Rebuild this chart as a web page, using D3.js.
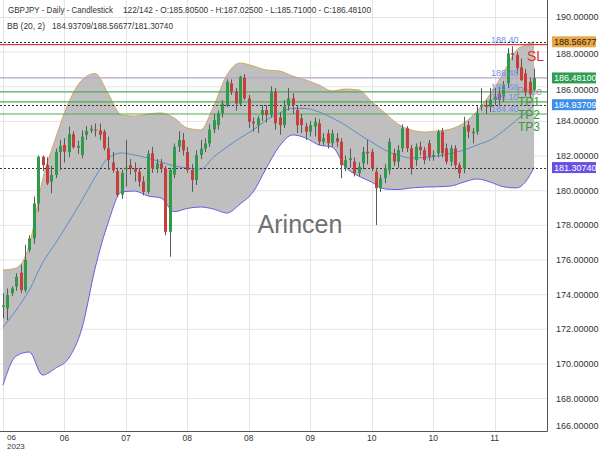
<!DOCTYPE html>
<html><head><meta charset="utf-8">
<script src="https://cdn.jsdelivr.net/npm/d3@7"></script>
<style>body{margin:0;background:#fff;} svg{display:block;font-family:"Liberation Sans",Arial,sans-serif;}</style>
</head><body><svg id="c" width="600" height="450"></svg>
<script>
// ---- data ----
const opens = [173.27,173.18,174.05,174.43,175.24,174.24,176.55,177.22,179.24,181.93,
181.45,180.50,180.88,182.20,182.61,182.20,183.24,182.45,182.03,183.19,
183.45,183.50,183.45,183.38,182.42,181.60,181.10,179.75,181.20,181.45,
181.26,181.07,180.50,179.90,182.13,181.26,181.55,181.26,177.60,180.90,
182.50,182.90,182.20,181.17,180.59,182.03,182.40,182.70,183.50,183.76,
184.44,184.90,186.17,185.69,185.00,186.50,185.30,183.95,183.76,184.34,
184.63,184.34,185.69,184.20,183.76,184.90,185.31,184.63,184.15,183.67,
183.38,183.67,183.86,182.80,183.28,182.71,183.00,182.80,181.30,181.74,
181.65,180.98,181.55,182.22,182.22,181.07,180.11,180.69,181.17,182.13,
181.65,182.42,183.57,182.42,181.74,182.51,182.32,182.71,181.93,182.13,
183.38,182.42,181.65,182.42,181.45,181.26,183.76,183.28,183.38,184.82,
184.92,184.82,185.21,185.59,185.40,186.17,187.90,187.81,187.10,186.75,
186.26,185.805];
const highs = [174.05,174.33,174.45,175.20,175.70,176.85,177.40,179.63,182.00,182.00,
181.90,181.40,182.40,182.90,183.00,183.67,183.40,182.85,183.45,183.70,
183.75,183.85,183.85,183.50,183.09,182.20,181.30,181.20,182.90,181.80,
181.60,181.30,180.80,182.30,182.50,181.80,181.80,181.40,181.30,182.70,
183.40,183.30,182.50,181.50,182.30,182.90,183.00,183.80,184.40,184.60,
185.20,186.40,186.40,185.90,186.60,186.70,185.50,184.20,184.30,184.90,
184.90,186.00,185.90,184.50,185.20,185.90,185.60,184.90,184.40,183.90,
184.00,184.20,184.10,183.30,183.50,183.50,183.30,183.00,182.00,182.40,
181.90,181.60,182.50,182.90,182.40,181.30,180.90,181.50,183.00,182.40,
182.60,183.80,183.70,182.60,182.70,182.80,182.50,182.90,182.30,183.50,
183.60,182.70,182.60,182.60,181.60,184.24,184.00,183.60,184.90,185.88,
185.20,185.90,185.90,186.00,186.30,188.20,188.30,188.00,187.60,187.00,
186.50,187.025];
const lows = [172.60,172.50,173.90,174.20,174.05,174.10,176.40,176.90,178.76,181.10,
180.30,179.82,180.70,181.17,181.60,181.90,182.40,182.10,181.84,182.90,
183.30,183.10,182.90,182.30,181.17,181.00,179.60,179.50,180.20,180.90,
180.50,180.20,179.70,179.80,181.00,181.00,181.00,177.40,176.16,180.70,
182.20,182.00,181.00,179.90,180.30,181.80,182.20,182.50,183.30,183.50,
184.20,184.80,185.50,184.60,184.90,185.20,183.60,183.38,183.30,184.00,
183.90,184.20,183.50,183.20,183.60,184.60,184.40,183.30,183.30,182.90,
183.10,183.10,182.60,182.60,182.40,182.50,182.50,180.69,181.10,181.30,
180.80,180.80,181.20,181.50,181.10,177.99,179.90,180.40,180.90,181.40,
181.30,182.20,182.20,180.90,181.40,182.00,181.50,181.70,181.70,181.90,
181.90,181.50,181.40,181.20,180.69,180.98,183.00,182.70,183.20,184.60,
184.40,184.50,184.90,184.90,185.10,185.90,187.50,186.70,186.30,185.40,
185.30,185.71];
const closes = [173.35,173.95,174.33,175.00,174.24,175.97,177.22,179.24,181.93,181.45,
180.40,180.88,182.22,182.55,182.22,183.24,182.48,182.55,183.09,183.42,
183.55,183.47,183.20,182.42,181.74,181.15,179.72,181.00,181.30,181.26,
181.07,180.50,179.90,182.10,181.26,181.55,181.26,177.60,181.17,182.50,
182.90,182.30,181.17,180.59,182.03,182.40,182.70,183.50,184.05,184.44,
185.00,186.26,185.69,185.00,186.55,185.30,183.95,183.86,184.15,184.63,
184.34,185.69,183.86,183.76,184.82,185.30,184.92,183.76,183.76,183.38,
183.76,183.95,182.80,183.00,182.71,183.28,182.80,181.45,181.74,181.84,
180.98,181.36,182.22,182.13,181.26,180.11,180.69,181.26,182.80,181.65,
182.32,183.57,182.42,181.26,182.51,182.32,181.74,181.93,182.03,183.38,
182.13,181.65,182.42,181.45,180.98,183.67,183.38,183.38,184.44,184.92,
184.82,185.21,185.40,185.21,186.07,187.90,187.81,187.04,186.36,185.69,
185.59,186.481];

// Bollinger band values at these candle indices
const bbIdx = [0,3,6,9,12,15,18,21,24,27,30,33,36,39,42,45,48,51,54,57,60,63,66,69,72,75,78,81,84,87,90,93,96,99,102,105,108,111,114,117,119,121];
const bbUpper = [175.39,175.51,176.84,180.59,183.01,185.09,186.36,186.74,185.55,184.34,184.28,184.40,184.46,184.17,183.59,183.48,184.86,186.65,187.34,187.17,186.94,186.88,186.59,186.36,186.07,185.73,185.84,185.79,185.11,184.46,183.82,183.48,183.36,183.42,183.53,183.88,184.57,185.55,186.77,188.09,188.38,188.567];
const bbMid = [172.10,173.08,174.24,175.80,176.95,178.16,179.43,180.76,181.86,182.15,182.03,181.86,181.63,181.40,181.28,181.22,181.92,182.49,183.01,183.48,184.05,184.46,184.72,184.72,184.52,184.17,183.76,183.24,182.78,182.32,182.03,181.86,181.89,181.97,182.12,182.32,182.61,182.90,183.42,184.05,184.46,184.937];
const bbLower = [168.75,170.43,170.66,169.33,169.73,170.31,172.04,175.51,178.16,179.90,179.95,179.67,179.55,178.76,178.95,179.03,178.91,178.68,179.20,179.90,181.28,182.55,183.19,183.01,182.61,182.49,181.34,180.82,180.47,180.07,180.04,180.13,180.18,180.20,180.24,180.47,180.65,180.47,180.20,180.13,180.47,181.307];

const yTicks = [190,188,186,184,182,180,178,176,174,172,170,168,166];
const xTickIdx = [14,28,42,56,70,84,98,112];
const xTickLabels = ["06","06","07","08","08","09","10","10","11"];
const firstLabel = ["06","2023"];

const levelValues = [188.40,186.48,185.68,185.10,184.40];
const levelNames = ["SL","Price","TP1","TP2","TP3"];
const bbLast = [188.56677,184.93709,181.30740];
const lastPrice = 186.481;
const header1a = "GBPJPY - Daily - Candlestick";
const header1b = "122/142 - O:185.80500 - H:187.02500 - L:185.71000 - C:186.48100";
const header2a = "BB (20, 2)";
const header2b = "184.93709/188.56677/181.30740";
const watermark = "Arincen";

// ---- drawing ----
const svg = d3.select("#c");
const plotR = 547, plotB = 431;
const n = closes.length;
const x = d3.scaleLinear().domain([0, n-1]).range([3, 534.1]);
const y = d3.scaleLinear().domain([166.10, 190.98]).range([plotB, 0]);

svg.append("defs").append("clipPath").attr("id","clip")
  .append("rect").attr("x",0).attr("y",0).attr("width",plotR).attr("height",plotB);

// grid
const grid = svg.append("g");
grid.selectAll("line.h").data(yTicks.filter(v=>y(v)<plotB)).join("line")
  .attr("x1",0).attr("x2",plotR).attr("y1",d=>y(d)+0.5).attr("y2",d=>y(d)+0.5)
  .attr("stroke","#e4e4e4").attr("stroke-width",1);
grid.selectAll("line.v").data([0].concat(xTickIdx)).join("line")
  .attr("x1",d=>Math.round(x(d))+0.5).attr("x2",d=>Math.round(x(d))+0.5).attr("y1",0).attr("y2",plotB)
  .attr("stroke","#e4e4e4").attr("stroke-width",1);

const plot = svg.append("g").attr("clip-path","url(#clip)");

// band
const bb = bbIdx.map((d,i)=>({i:d,u:bbUpper[i],m:bbMid[i],l:bbLower[i]}));
const curve = d3.curveMonotoneX;
plot.append("path").datum(bb)
  .attr("d", d3.area().x(d=>x(d.i)).y0(d=>y(d.l)).y1(d=>y(d.u)).curve(curve))
  .attr("fill","#bfbfbf");
plot.append("path").datum(bb)
  .attr("d", d3.line().x(d=>x(d.i)).y(d=>y(d.u)).curve(curve))
  .attr("fill","none").attr("stroke","#d9a45e").attr("stroke-width",1);
plot.append("path").datum(bb)
  .attr("d", d3.line().x(d=>x(d.i)).y(d=>y(d.l)).curve(curve))
  .attr("fill","none").attr("stroke","#6a5ae8").attr("stroke-width",1);
plot.append("path").datum(bb)
  .attr("d", d3.line().x(d=>x(d.i)).y(d=>y(d.m)).curve(curve))
  .attr("fill","none").attr("stroke","#5a8cc8").attr("stroke-width",1);

// level lines
const levelColor = ["#e03a3a","#b9a3c6","#55aa55","#55aa55","#55aa55"];
plot.selectAll("line.lv").data(levelValues).join("line")
  .attr("x1",0).attr("x2",plotR).attr("y1",d=>y(d)).attr("y2",d=>y(d))
  .attr("stroke",(d,i)=>levelColor[i]).attr("stroke-width",1.2);
plot.selectAll("line.bbl").data(bbLast).join("line")
  .attr("x1",0).attr("x2",plotR).attr("y1",d=>Math.round(y(d))+0.5).attr("y2",d=>Math.round(y(d))+0.5)
  .attr("stroke","#333").attr("stroke-width",1).attr("stroke-dasharray","2,2");

// watermark
svg.append("text").attr("x",300).attr("y",233).attr("text-anchor","middle")
  .attr("font-size",25).attr("fill","#707070").text(watermark);

// gray "Price" tag (behind candles)
plot.append("text").attr("x",542).attr("y",y(levelValues[2])+3).attr("text-anchor","end")
  .attr("font-size",11).attr("fill","#8e8e8e").text(levelNames[1]);

// candles
const idx = d3.range(n);
const cg = plot.append("g");
cg.selectAll("line.w").data(idx).join("line")
  .attr("x1",i=>Math.round(x(i))+0.5).attr("x2",i=>Math.round(x(i))+0.5)
  .attr("y1",i=>y(highs[i])).attr("y2",i=>y(lows[i]))
  .attr("stroke","#5a5a5a").attr("stroke-width",1);
cg.selectAll("rect").data(idx).join("rect")
  .attr("x",i=>Math.round(x(i))-1).attr("width",3)
  .attr("y",i=>y(Math.max(opens[i],closes[i])))
  .attr("height",i=>Math.max(1, Math.abs(y(opens[i])-y(closes[i]))))
  .attr("fill",i=>closes[i]>=opens[i] ? "#2f9a4a" : "#c93d3d");

// price annotations
svg.selectAll("text.ann").data(levelValues).join("text")
  .attr("x",491).attr("y",d=>y(d)-1.5).attr("font-size",9).attr("fill","#6f90e6")
  .text(d=>d.toFixed(2));

// SL / TP tags
svg.append("text").attr("x",527).attr("y",y(levelValues[0])+16).attr("font-size",14).attr("fill","#e23030").text(levelNames[0]);
svg.append("text").attr("x",518).attr("y",y(levelValues[3])+4).attr("font-size",12).attr("fill","#3a993a").text(levelNames[2]);
svg.append("text").attr("x",518).attr("y",y(levelValues[4])+5).attr("font-size",12).attr("fill","#3a993a").text(levelNames[3]);
svg.append("text").attr("x",518).attr("y",y(levelValues[4])+17.5).attr("font-size",12).attr("fill","#3a993a").text(levelNames[4]);

// axes lines
svg.append("line").attr("x1",plotR+0.5).attr("x2",plotR+0.5).attr("y1",0).attr("y2",plotB+0.5).attr("stroke","#555");
svg.append("line").attr("x1",0).attr("x2",plotR+0.5).attr("y1",plotB+0.5).attr("y2",plotB+0.5).attr("stroke","#555");

// value boxes
const boxes = [
  {v:bbLast[0], bg:"#eba742", fg:"#222"},
  {v:lastPrice, bg:"#2e9e52", fg:"#fff"},
  {v:bbLast[1], bg:"#3d8fea", fg:"#fff"},
  {v:bbLast[2], bg:"#6a4fe6", fg:"#fff"}];

// y tick labels (nudged below a value box when they would collide)
function tickY(v){
  let ty = Math.min(y(v), 425);
  boxes.forEach(b=>{ const by=y(b.v); if (ty>by && ty-by<12) ty = by+12; });
  return ty;
}
svg.selectAll("text.yt").data(yTicks).join("text")
  .attr("x",556).attr("y",d=>tickY(d)+3.5).attr("font-size",9).attr("fill","#333")
  .text(d=>d.toFixed(5));

const bx = svg.selectAll("g.box").data(boxes).join("g");
bx.append("rect").attr("x",552).attr("y",d=>y(d.v)-5.5).attr("width",44).attr("height",11).attr("fill",d=>d.bg);
bx.append("text").attr("x",554).attr("y",d=>y(d.v)+3.5).attr("font-size",9).attr("fill",d=>d.fg)
  .text(d=>d.v.toFixed(5));

// x tick labels
svg.selectAll("text.xt").data(xTickIdx).join("text")
  .attr("x",d=>x(d)).attr("y",441).attr("text-anchor","middle").attr("font-size",8.5).attr("fill","#333")
  .text((d,i)=>xTickLabels[i+1]);
svg.append("text").attr("x",7).attr("y",440).attr("font-size",8).attr("fill","#333").text(firstLabel[0]);
svg.append("text").attr("x",7).attr("y",448.5).attr("font-size",8).attr("fill","#333").text(firstLabel[1]);

// header
function hdr(t, x0, y0, w){
  svg.append("text").attr("x",x0).attr("y",y0).attr("font-size",8.5).attr("fill","#333")
    .attr("textLength",w).attr("lengthAdjust","spacingAndGlyphs").text(t);
}
hdr(header1a, 8, 12.5, 105);
hdr(header1b, 123, 12.5, 248);
hdr(header2a, 7, 28.5, 38);
hdr(header2b, 52, 28.5, 121);
</script>
</body></html>
